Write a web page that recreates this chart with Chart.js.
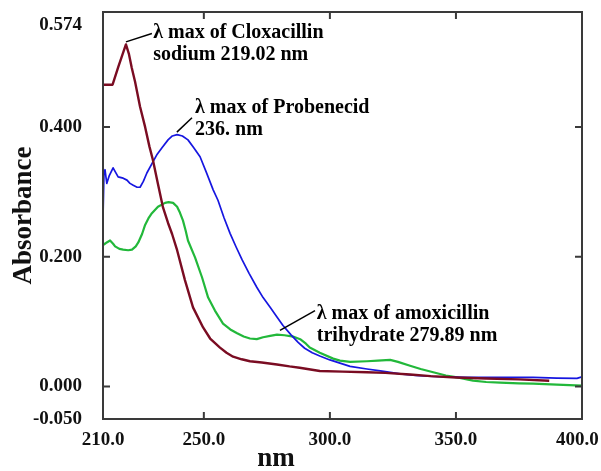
<!DOCTYPE html>
<html>
<head>
<meta charset="utf-8">
<title>UV spectra</title>
<script src="https://cdn.jsdelivr.net/npm/chart.js"></script>
<style>
  html, body { margin: 0; padding: 0; background: #fff; }
</style>
</head>
<body>
<canvas id="myChart" width="601" height="471"></canvas>
<script>
// wavelength (nm) and absorbance
const cloxNm = [210, 213.8, 216.1, 219.1, 220.3, 221.4, 222.7, 224.7, 226.7, 228.4, 229.8, 231.8, 233.8, 235.8, 237.4, 239.4, 242.5, 245.7, 249.7, 252.5, 256.4, 259, 261.6, 265, 268.3, 273, 279, 284, 288, 296, 305, 314.7, 322, 331.8, 340, 350, 362, 375, 387];
const cloxAbs = [0.465, 0.465, 0.493, 0.527, 0.512, 0.491, 0.47, 0.431, 0.4, 0.37, 0.349, 0.312, 0.276, 0.252, 0.235, 0.21, 0.164, 0.122, 0.091, 0.074, 0.06, 0.052, 0.046, 0.042, 0.039, 0.037, 0.034, 0.031, 0.029, 0.024, 0.023, 0.022, 0.021, 0.0185, 0.016, 0.014, 0.0124, 0.011, 0.009];

const probNm = [210, 210.4, 210.8, 211.5, 212.5, 214, 215, 216, 218, 219.5, 220.7, 222, 223.5, 224.7, 226, 227.4, 229.8, 231.5, 233.4, 235.8, 237.5, 239.4, 241.5, 243.7, 246, 248.5, 251, 253.7, 255.6, 258, 260.4, 262.8, 265.2, 268, 271, 273.5, 276.3, 279, 281.4, 284.5, 287.4, 290, 293, 296, 300, 304, 308, 314.7, 320, 327.9, 334, 341, 354.4, 365, 380.6, 390, 398, 400];
const probAbs = [0.26, 0.33, 0.334, 0.313, 0.325, 0.337, 0.33, 0.323, 0.321, 0.318, 0.313, 0.31, 0.307, 0.307, 0.316, 0.329, 0.346, 0.358, 0.368, 0.38, 0.386, 0.388, 0.386, 0.38, 0.368, 0.354, 0.33, 0.303, 0.287, 0.26, 0.236, 0.215, 0.195, 0.174, 0.153, 0.137, 0.122, 0.107, 0.094, 0.08, 0.068, 0.059, 0.052, 0.047, 0.041, 0.036, 0.031, 0.027, 0.024, 0.0195, 0.017, 0.0155, 0.014, 0.014, 0.014, 0.013, 0.0125, 0.015];

const amoxNm = [210, 210.5, 211.5, 212.8, 214, 214.8, 216.5, 218, 220, 221.5, 223, 224, 225.5, 226.7, 228, 229.4, 231.8, 234.6, 236, 237.8, 239.4, 240.5, 241.7, 242.8, 243.7, 246.5, 249.3, 251.7, 254.4, 257.6, 260.5, 263.2, 265.8, 268.3, 271, 273.5, 276.3, 279, 282, 285.4, 288.2, 290.5, 292, 296, 301.3, 304, 308, 314.7, 319, 323.9, 327, 331.8, 336, 341, 346, 350.5, 356.8, 362, 367.5, 375, 380.6, 390, 400];
const amoxAbs = [0.221, 0.219, 0.222, 0.225, 0.22, 0.216, 0.212, 0.211, 0.21, 0.211, 0.216, 0.222, 0.235, 0.249, 0.259, 0.267, 0.277, 0.283, 0.284, 0.283, 0.277, 0.268, 0.256, 0.24, 0.225, 0.199, 0.168, 0.137, 0.117, 0.097, 0.088, 0.082, 0.077, 0.074, 0.073, 0.076, 0.078, 0.08, 0.079, 0.077, 0.073, 0.066, 0.06, 0.052, 0.043, 0.04, 0.038, 0.039, 0.04, 0.041, 0.038, 0.032, 0.027, 0.022, 0.017, 0.014, 0.009, 0.007, 0.006, 0.005, 0.0046, 0.003, 0.0015];

// axis ticks
const xTicks = [210, 250, 300, 350, 400];
const xTickLabels = ['210.0', '250.0', '300.0', '350.0', '400.0'];
const yTicks = [-0.05, 0, 0.2, 0.4, 0.574];
const yTickLabels = ['-0.050', '0.000', '0.200', '0.400', '0.574'];
const xMarks = [250, 300, 350];
const yMarks = [0, 0.2, 0.4];
const xTitle = 'nm';

// λ max notes: leader line from -> to, text at (all in data units)
const notes = [
  { from: [219.1, 0.531], to: [229.4, 0.544], at: [229.9, 0.545], lines: ['λ max of Cloxacillin', 'sodium 219.02 nm'] },
  { from: [239.3, 0.392], to: [245.3, 0.414], at: [246.5, 0.429], lines: ['λ max of Probenecid', '236. nm'] },
  { from: [280.2, 0.0865], to: [294.1, 0.117], at: [294.8, 0.112], lines: ['λ max of amoxicillin', 'trihydrate 279.89 nm'] }
];

const serif = '"Liberation Serif", "Times New Roman", serif';

function pts(xs, ys) {
  let out = [];
  for (let i = 0; i < xs.length; i++) {
    out.push({ x: xs[i], y: ys[i] });
  }
  return out;
}

// frame, inward tick marks, the notes and the x title (it sits left of centre)
const frame = {
  id: 'frame',
  afterDatasetsDraw(chart) {
    const ctx = chart.ctx;
    const a = chart.chartArea;
    const x = chart.scales.x;
    const y = chart.scales.y;
    ctx.save();
    ctx.strokeStyle = '#3a3a3a';
    ctx.lineWidth = 2;
    ctx.strokeRect(a.left, a.top, a.right - a.left, a.bottom - a.top);

    ctx.beginPath();
    xMarks.forEach(function (v) {
      const px = x.getPixelForValue(v);
      ctx.moveTo(px, a.bottom); ctx.lineTo(px, a.bottom - 7);
      ctx.moveTo(px, a.top); ctx.lineTo(px, a.top + 7);
    });
    yMarks.forEach(function (v) {
      const py = y.getPixelForValue(v);
      ctx.moveTo(a.left, py); ctx.lineTo(a.left + 7, py);
      ctx.moveTo(a.right, py); ctx.lineTo(a.right - 7, py);
    });
    ctx.stroke();

    ctx.strokeStyle = '#000';
    ctx.lineWidth = 1.5;
    ctx.fillStyle = '#000';
    ctx.font = 'bold 20px ' + serif;
    ctx.textAlign = 'left';
    ctx.textBaseline = 'middle';
    notes.forEach(function (n) {
      ctx.beginPath();
      ctx.moveTo(x.getPixelForValue(n.from[0]), y.getPixelForValue(n.from[1]));
      ctx.lineTo(x.getPixelForValue(n.to[0]), y.getPixelForValue(n.to[1]));
      ctx.stroke();
      const tx = x.getPixelForValue(n.at[0]);
      const ty = y.getPixelForValue(n.at[1]);
      n.lines.forEach(function (t, i) {
        ctx.fillText(t, tx, ty + i * 22);
      });
    });

    ctx.fillStyle = '#111';
    ctx.font = 'bold 27px ' + serif;
    ctx.textAlign = 'center';
    ctx.fillText(xTitle, 276, 459);
    ctx.restore();
  }
};

const ctx = document.getElementById('myChart');

new Chart(ctx, {
  type: 'line',
  data: {
    datasets: [
      { label: 'Cloxacillin sodium', data: pts(cloxNm, cloxAbs), borderColor: '#7a0c22', borderWidth: 2.4 },
      { label: 'Probenecid', data: pts(probNm, probAbs), borderColor: '#1616e0', borderWidth: 1.7 },
      { label: 'Amoxicillin trihydrate', data: pts(amoxNm, amoxAbs), borderColor: '#22b83a', borderWidth: 2.2 }
    ]
  },
  options: {
    responsive: false,
    animation: false,
    events: [],
    elements: { point: { radius: 0 }, line: { tension: 0, borderJoinStyle: 'round' } },
    layout: { padding: { top: 12, right: 19, left: 0, bottom: 0 } },
    plugins: { legend: { display: false }, tooltip: { enabled: false } },
    scales: {
      x: {
        type: 'linear',
        min: 210,
        max: 400,
        grid: { display: false, drawTicks: false },
        border: { display: false },
        afterBuildTicks: function (axis) {
          axis.ticks = xTicks.map(function (v) { return { value: v }; });
        },
        afterFit: function (axis) {
          axis.height = 52;
          axis.paddingLeft = 0;
          axis.paddingRight = 0;
        },
        ticks: {
          autoSkip: false,
          maxRotation: 0,
          padding: 10,
          color: '#111',
          font: { family: serif, size: 19, weight: 'bold' },
          callback: function (value, i) {
            // last label sits a little left, as in the original
            return i === xTicks.length - 1 ? xTickLabels[i] + '  ' : xTickLabels[i];
          }
        }
      },
      y: {
        min: -0.05,
        max: 0.577,
        grid: { display: false, drawTicks: false },
        border: { display: false },
        afterBuildTicks: function (axis) {
          axis.ticks = yTicks.map(function (v) { return { value: v }; });
        },
        afterFit: function (axis) {
          axis.width = 103;
          axis.paddingTop = 0;
          axis.paddingBottom = 0;
        },
        ticks: {
          autoSkip: false,
          padding: 21,
          color: '#111',
          font: { family: serif, size: 19, weight: 'bold' },
          callback: function (value, i) {
            // top label is printed just under the frame
            return i === yTicks.length - 1 ? ['', yTickLabels[i]] : yTickLabels[i];
          }
        },
        title: {
          display: true,
          text: 'Absorbance',
          color: '#111',
          padding: { top: 11, bottom: 0 },
          font: { family: serif, size: 27, weight: 'bold', lineHeight: 1 }
        }
      }
    }
  },
  plugins: [frame]
});
</script>
</body>
</html>
